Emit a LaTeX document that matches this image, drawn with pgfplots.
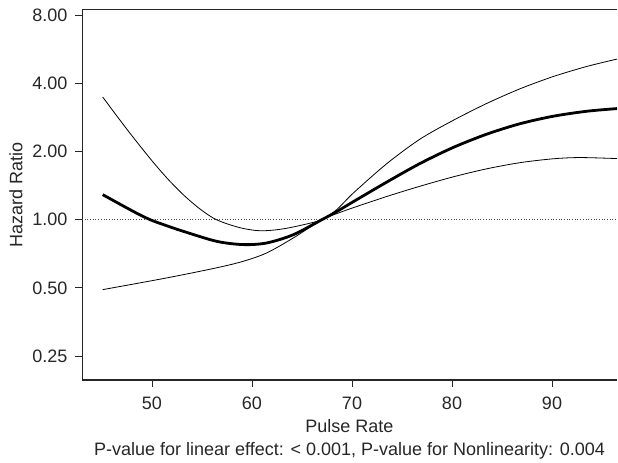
\documentclass[border=0pt]{standalone}
\usepackage{fontspec}
\setmainfont{Liberation Sans}
\usepackage{pgfplots}
\pgfplotsset{compat=1.18}
\begin{document}
\fontsize{18bp}{21bp}\selectfont
\begin{tikzpicture}
\begin{axis}[
  at={(0,0)}, anchor=south west,
  scale only axis,
  width=535bp, height=370.5bp,
  xmin=43, xmax=96.5,
  ymode=log, log basis y=2,
  ymin=0.196, ymax=8.46,
  xtick={50,60,70,80,90},
  ytick={0.25,0.5,1,2,4,8},
  yticklabels={0.25,0.50,1.00,2.00,4.00,8.00},
  separate axis lines,
  axis x line*=box,
  axis y line*=left,
  xtick pos=bottom, ytick pos=left,
  tick align=outside,
  major tick length=7bp,
  tick style={black!85, line width=0.8bp},
  axis line style={black!85, line width=0.8bp},
  /pgf/number format/assume math mode=true,
  ticklabel style={font=\fontsize{18bp}{21bp}\selectfont, text=black!85},
  xticklabel style={yshift=-3.5bp},
  yticklabel style={xshift=-1.3bp},
  xlabel={Pulse Rate},
  ylabel={Hazard Ratio},
  label style={font=\fontsize{18bp}{21bp}\selectfont, text=black!85},
  xlabel style={at={(axis description cs:0.5,-0.1234)}, anchor=center},
  ylabel style={at={(axis description cs:-0.1234,0.5)}, anchor=center, rotate=0},
]
% thicker bottom axis line
\draw[black!85, line width=1.6bp] (rel axis cs:0,0) -- (rel axis cs:1,0);
% reference line at HR = 1
\addplot[black!70, line width=0.7bp, dotted] coordinates {(43,1) (96.5,1)};
% upper confidence limit
\addplot[black, line width=0.8bp, smooth] coordinates {
(45.07,3.475) (47.5,2.502) (49.8,1.864) (51.5,1.525) (53.13,1.288) (54.8,1.114)
(56.47,0.998) (58.8,0.921) (60.8,0.893) (62.8,0.906) (64.8,0.942) (67,1.0)
(68.5,1.11) (70.13,1.310) (73.47,1.765) (76.8,2.266) (80.13,2.744) (83.47,3.256)
(86.8,3.779) (90.13,4.281) (93.47,4.741) (96.5,5.112)};
% lower confidence limit
\addplot[black, line width=0.8bp, smooth] coordinates {
(45.07,0.491) (51.47,0.553) (56.47,0.613) (59.13,0.655) (61.47,0.713)
(64.13,0.830) (67,1.0) (68.5,1.064) (70.13,1.129) (73.47,1.265) (76.8,1.404)
(80.13,1.545) (83.47,1.676) (86.8,1.784) (90.13,1.856) (92.8,1.879) (96.5,1.860)};
% estimate
\addplot[black, line width=2.8bp, smooth] coordinates {
(45.07,1.289) (48.13,1.087) (49.8,1.0) (51.5,0.939) (53.13,0.888) (56.47,0.802)
(59.13,0.776) (61.47,0.789) (64.13,0.858) (67,1.0) (68.5,1.087) (70.13,1.200)
(73.47,1.464) (76.8,1.769) (80.13,2.083) (83.47,2.383) (86.8,2.650)
(90.13,2.860) (93.47,3.008) (96.5,3.091)};
\end{axis}
\node[font=\fontsize{18bp}{21bp}\selectfont, text=black!85, anchor=center]
  at (267.5bp,-70.7bp)
  {P-value for linear effect: < 0.001, P-value for Nonlinearity: 0.004};
\pgfresetboundingbox
\path[use as bounding box] (-82bp,-83bp) rectangle (536bp,380bp);
\end{tikzpicture}
\end{document}
